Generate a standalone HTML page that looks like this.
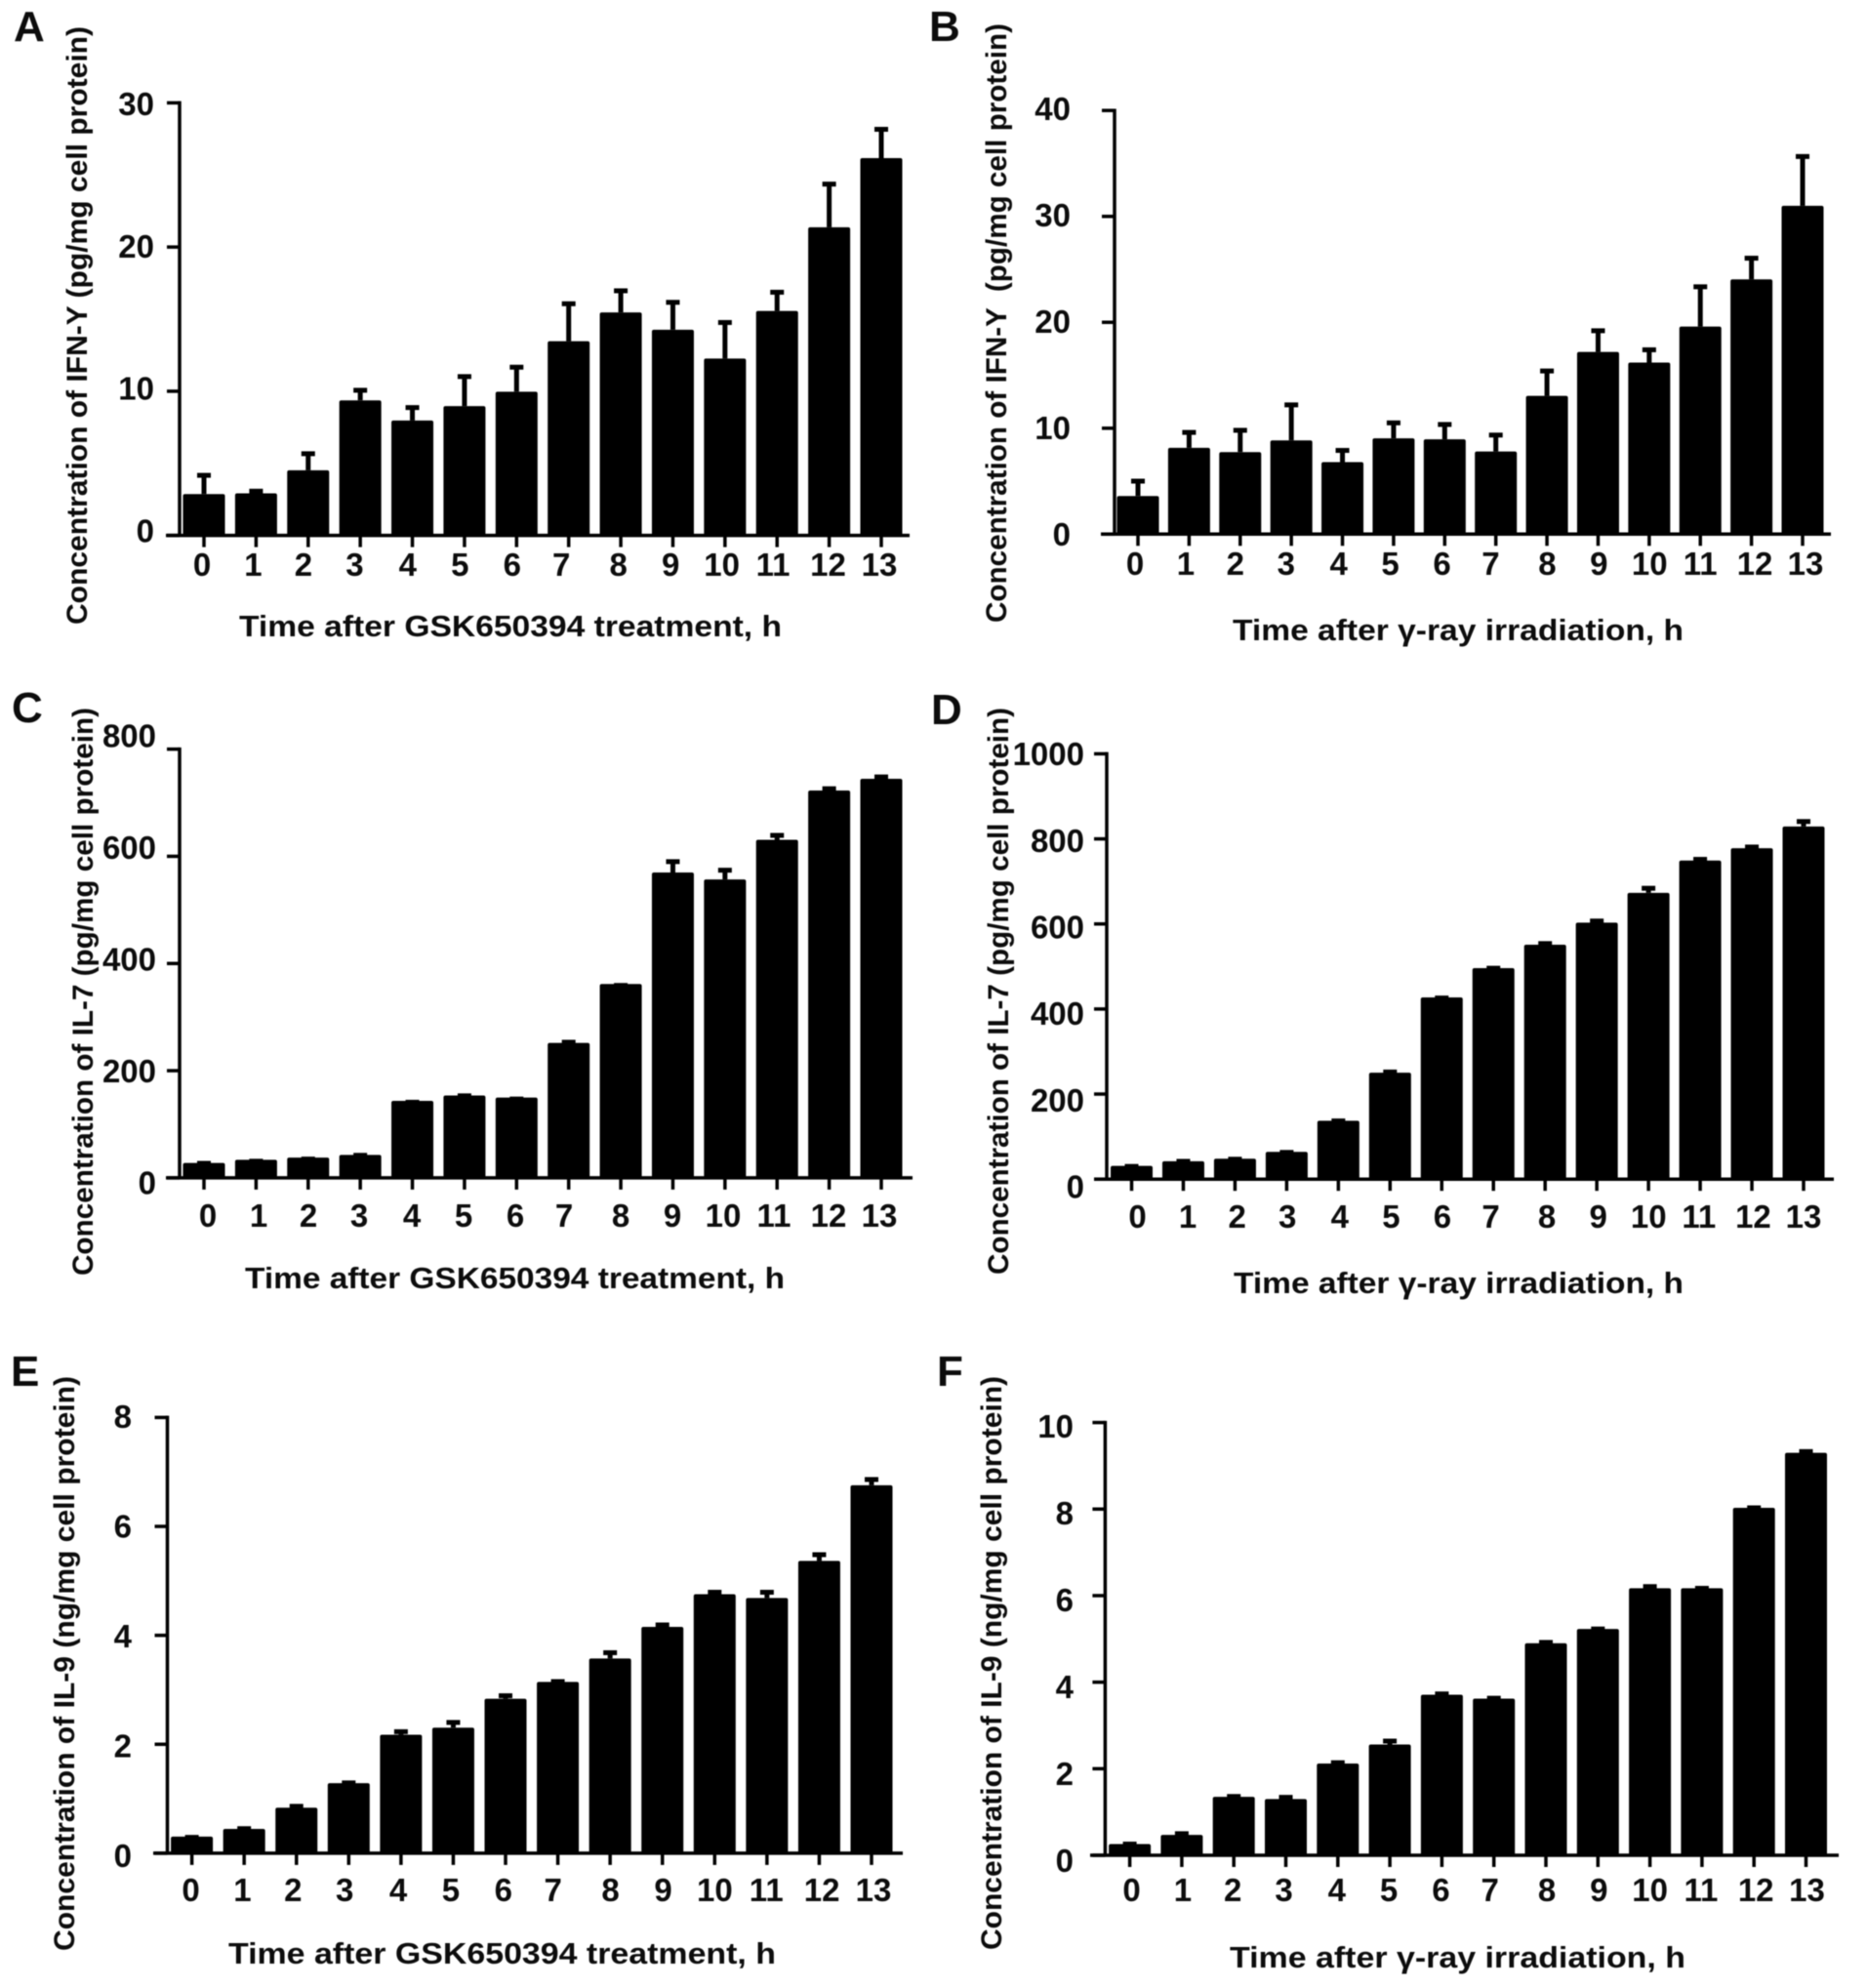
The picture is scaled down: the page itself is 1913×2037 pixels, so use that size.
<!DOCTYPE html>
<html lang="en">
<head>
<meta charset="utf-8">
<title>Cytokine concentration over time, panels A–F</title>
<style>
  html, body { margin: 0; padding: 0; background: #fff; }
  svg { display: block; filter: blur(0.5px); }
  text { font-family: "Liberation Sans", "DejaVu Sans", sans-serif; font-weight: bold; fill: #0c0c0c; }
  .letter { font-size: 44px; }
  .xt { font-size: 31px; }
  .yt { font-size: 30px; }
  .tick { font-size: 33px; }
</style>
</head>
<body>
<svg id="figure" xmlns="http://www.w3.org/2000/svg" width="1913" height="2037" viewBox="0 0 1913 2037">
  <rect x="0" y="0" width="1913" height="2037" fill="#fff"/>

  <text class="letter" x="14" y="42">A</text>
  <text class="letter" x="952" y="42">B</text>
  <text class="letter" x="12" y="740">C</text>
  <text class="letter" x="954" y="742">D</text>
  <text class="letter" x="11" y="1420">E</text>
  <text class="letter" x="960" y="1420">F</text>

  <text class="xt" x="245" y="652" textLength="556" lengthAdjust="spacingAndGlyphs">Time after GSK650394 treatment, h</text>
  <text class="xt" x="1263" y="656" textLength="462" lengthAdjust="spacingAndGlyphs">Time after γ-ray irradiation, h</text>
  <text class="xt" x="251" y="1320" textLength="553" lengthAdjust="spacingAndGlyphs">Time after GSK650394 treatment, h</text>
  <text class="xt" x="1264" y="1325" textLength="461" lengthAdjust="spacingAndGlyphs">Time after γ-ray irradiation, h</text>
  <text class="xt" x="234" y="2012" textLength="561" lengthAdjust="spacingAndGlyphs">Time after GSK650394 treatment, h</text>
  <text class="xt" x="1260" y="2016" textLength="467" lengthAdjust="spacingAndGlyphs">Time after γ-ray irradiation, h</text>

  <text class="yt" transform="translate(89,640) rotate(-90)" textLength="613" lengthAdjust="spacingAndGlyphs">Concentration of IFN-Y (pg/mg cell protein)</text>
  <text class="yt" transform="translate(1031,638) rotate(-90)" textLength="614" lengthAdjust="spacingAndGlyphs" xml:space="preserve">Concentration of IFN-Y  (pg/mg cell protein)</text>
  <text class="yt" transform="translate(95,1307) rotate(-90)" textLength="582" lengthAdjust="spacingAndGlyphs">Concentration of IL-7 (pg/mg cell protein)</text>
  <text class="yt" transform="translate(1033,1306) rotate(-90)" textLength="581" lengthAdjust="spacingAndGlyphs">Concentration of IL-7 (pg/mg cell protein)</text>
  <text class="yt" transform="translate(76,1999) rotate(-90)" textLength="589" lengthAdjust="spacingAndGlyphs">Concentration of IL-9 (ng/mg cell protein)</text>
  <text class="yt" transform="translate(1026,1998) rotate(-90)" textLength="588" lengthAdjust="spacingAndGlyphs">Concentration of IL-9 (ng/mg cell protein)</text>
</svg>

<script>
// ---- data ----
var hours = [0,1,2,3,4,5,6,7,8,9,10,11,12,13];

var ifnGskMeans = [2.8,2.85,4.45,9.3,7.9,8.9,9.9,13.4,15.4,14.2,12.2,15.5,21.3,26.1];
var ifnGskUpper = [4.2,3.1,5.7,10.1,8.9,11.05,11.7,16.1,17,16.2,14.8,16.9,24.4,28.2];
var ifnGskTicks = [0,10,20,30];

var ifnRayMeans = [3.6,8.15,7.75,8.85,6.8,9.05,8.95,7.8,13.05,17.2,16.2,19.6,24.05,31];
var ifnRayUpper = [5.05,9.65,9.85,12.25,7.95,10.55,10.4,9.4,15.45,19.25,17.45,23.4,26.1,35.7];
var ifnRayTicks = [0,10,20,30,40];

var il7GskMeans = [25,31,35,40,141,151,147,249,359,567,554,628,720,742];
var il7GskUpper = [28,32,36,43,142,154,148,254,360,591,575,640,727,749];
var il7GskTicks = [0,200,400,600,800];

var il7RayMeans = [30,41,47,63,136,249,426,495,550,602,672,748,777,828];
var il7RayUpper = [31,43,48,64,138,253,427,497,555,608,685,753,782,842];
var il7RayTicks = [0,200,400,600,800,1000];

var il9GskMeans = [0.27,0.41,0.8,1.25,2.14,2.27,2.8,3.11,3.54,4.12,4.72,4.65,5.33,6.72];
var il9GskUpper = [0.3,0.46,0.87,1.3,2.24,2.41,2.9,3.16,3.69,4.2,4.8,4.8,5.49,6.87];
var il9GskTicks = [0,2,4,6,8];

var il9RayMeans = [0.26,0.47,1.35,1.3,2.12,2.56,3.71,3.62,4.9,5.23,6.17,6.17,8.03,9.3];
var il9RayUpper = [0.27,0.51,1.37,1.35,2.15,2.65,3.74,3.64,4.93,5.24,6.22,6.18,8.04,9.34];
var il9RayTicks = [0,2,4,6,8,10];

// ---- layout ----
var labelNudge = [-2,-3,-5,-6,-5,-5,-5,-8,-3,-3,-4,-5,-2,-3];
var panels = [
  {id:'a', means:ifnGskMeans, upper:ifnGskUpper, ticks:ifnGskTicks, axisX:184,  axisL:170,  axisR:932,  first:209,  last:903,  zero:548.6,  top:105.4, lblRight:158,  lbl0:544.5, lblT:107,  xBase:590, shiftL:0, shiftR:1, lift:1},
  {id:'b', means:ifnRayMeans, upper:ifnRayUpper, ticks:ifnRayTicks, axisX:1142, axisL:1128, axisR:1876, first:1166, last:1847, zero:547.3,  top:113.2, lblRight:1097, lbl0:548,  lblT:112,  xBase:589, shiftL:-1, shiftR:6, lift:0},
  {id:'c', means:il7GskMeans, upper:il7GskUpper, ticks:il7GskTicks, axisX:184,  axisL:170,  axisR:935,  first:209,  last:903,  zero:1206.9, top:767.6, lblRight:160,  lbl0:1212.5, lblT:754.6, xBase:1257, shiftL:6, shiftR:1, lift:1.5},
  {id:'d', means:il7RayMeans, upper:il7RayUpper, ticks:il7RayTicks, axisX:1134, axisL:1121, axisR:1879, first:1159.5, last:1848, zero:1208.2, top:772.4, lblRight:1111, lbl0:1216.5, lblT:773.2, xBase:1258, shiftL:8, shiftR:3, lift:0.5},
  {id:'e', means:il9GskMeans, upper:il9GskUpper, ticks:il9GskTicks, axisX:171.5,axisL:157,  axisR:925,  first:196.6, last:893, zero:1898.9, top:1452.4,lblRight:135,  lbl0:1902, lblT:1452, xBase:1948, shiftL:1, shiftR:5, lift:2},
  {id:'f', means:il9RayMeans, upper:il9RayUpper, ticks:il9RayTicks, axisX:1132.4,axisL:1117,axisR:1884, first:1157.6,last:1850.5,zero:1901,  top:1457.6,lblRight:1100, lbl0:1907, lblT:1462, xBase:1948, shiftL:4, shiftR:4, lift:0}
];

var NS = 'http://www.w3.org/2000/svg';
var figure = document.getElementById('figure');
var INK = '#000';

function lineEl(parent, x1, y1, x2, y2, w) {
  var l = document.createElementNS(NS, 'line');
  l.setAttribute('x1', x1);
  l.setAttribute('y1', y1);
  l.setAttribute('x2', x2);
  l.setAttribute('y2', y2);
  l.setAttribute('stroke', INK);
  l.setAttribute('stroke-width', w);
  parent.appendChild(l);
  return l;
}

panels.forEach(function (p) {
  var maxV = p.ticks[p.ticks.length - 1];
  var lastHour = hours[hours.length - 1];
  var xScale = function (h) { return p.first + (p.last - p.first) * h / lastHour; };
  var yScale = function (v) { return p.zero - (p.zero - p.top) * v / maxV; };

  var g = document.createElementNS(NS, 'g');
  
  
  figure.appendChild(g);

  hours.forEach(function (h, i) {
    var cx = xScale(h);
    var capY = yScale(p.upper[i]) + 0.5;
    var barTop = yScale(p.means[i]) - p.lift;

    var stem = lineEl(g, cx, barTop, cx, capY, 5);
    
    

    var cap = lineEl(g, cx - 7, capY, cx + 7, capY, 5);
    
    

    var bar = document.createElementNS(NS, 'rect');
    
    
    bar.setAttribute('x', cx - 21.5);
    bar.setAttribute('y', barTop);
    bar.setAttribute('width', 43);
    bar.setAttribute('height', p.zero - barTop);
    bar.setAttribute('rx', 2);
    bar.setAttribute('fill', INK);
    g.appendChild(bar);

    var xTick = lineEl(g, cx, p.zero, cx, p.zero + 12, 3.5);
    
    

    var xLabel = document.createElementNS(NS, 'text');
    
    
    xLabel.setAttribute('class', 'tick');
    xLabel.setAttribute('x', cx + labelNudge[i] + p.shiftL + (p.shiftR - p.shiftL) * h / lastHour);
    xLabel.setAttribute('y', p.xBase);
    xLabel.setAttribute('text-anchor', 'middle');
    xLabel.textContent = String(h);
    g.appendChild(xLabel);
  });

  var yAxis = lineEl(g, p.axisX, p.top - 1.75, p.axisX, p.zero, 3.5);
  
  

  var xAxis = lineEl(g, p.axisL, p.zero, p.axisR, p.zero, 3.5);
  
  

  p.ticks.forEach(function (t) {
    var yTick = lineEl(g, p.axisX - 13, yScale(t), p.axisX, yScale(t), 3.5);
    
    

    var yLabel = document.createElementNS(NS, 'text');
    
    
    yLabel.setAttribute('class', 'tick');
    yLabel.setAttribute('x', p.lblRight);
    yLabel.setAttribute('y', p.lbl0 + (p.lblT - p.lbl0) * t / maxV + 11);
    yLabel.setAttribute('text-anchor', 'end');
    yLabel.textContent = String(t);
    g.appendChild(yLabel);
  });
});
</script>
</body>
</html>
